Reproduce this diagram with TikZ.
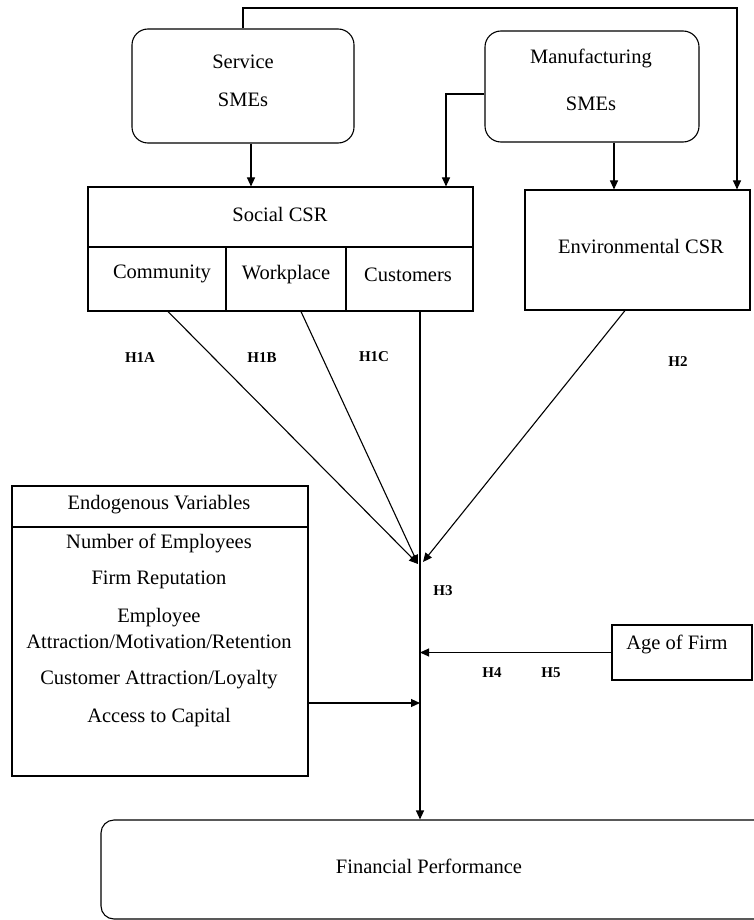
\documentclass[tikz,border=0pt]{standalone}
\usepackage{fontspec}
\setmainfont{Liberation Serif}
\usetikzlibrary{arrows.meta}
\tikzset{
  box/.style={draw, line width=1.1pt, inner sep=0pt, rectangle},
  rbox/.style={box, rounded corners=16pt},
  txt/.style={inner sep=0pt, font=\fontsize{20.5}{22}\selectfont},
  hyp/.style={inner sep=0pt, font=\fontsize{15}{16}\selectfont\bfseries},
  arr/.style={line width=1.1pt, -{Triangle[length=9pt,width=8pt]}}
}
\begin{document}
\begin{tikzpicture}[x=1pt,y=-1pt]
\useasboundingbox (0,0) rectangle (753,920);
% boxes
\node[rbox, minimum width=222pt, minimum height=114pt] (svc) at (243,86) {};
\node[txt] (svct1) at (243,62) {Service};
\node[txt] (svct2) at (243,100) {SMEs};
\node[rbox, minimum width=214pt, minimum height=111pt] (mfg) at (592,86.5) {};
\node[txt] (mfgt1) at (591,58) {Manufacturing};
\node[txt] (mfgt2) at (591,104) {SMEs};
\node[box, minimum width=385pt, minimum height=60pt] (soch) at (280.5,217) {};
\node[txt] (socht) at (280,214) {Social CSR};
\node[box, minimum width=138pt, minimum height=64pt] (comm) at (157,279) {};
\node[txt] (commt) at (162,274) {Community};
\node[box, minimum width=120pt, minimum height=64pt] (work) at (286,279) {};
\node[txt] (workt) at (286,275) {Workplace};
\node[box, minimum width=127pt, minimum height=64pt] (cust) at (409.5,279) {};
\node[txt] (custt) at (408,275) {Customers};
\node[box, minimum width=225pt, minimum height=120pt] (env) at (637.5,250) {};
\node[txt] (envt) at (641,246) {Environmental CSR};
\node[box, minimum width=296pt, minimum height=41pt] (endoh) at (160,506.5) {};
\node[txt] (endoht) at (159,505) {Endogenous Variables};
\node[box, minimum width=296pt, minimum height=249pt] (endo) at (160,651.5) {};
\node[txt] (e1) at (159,543) {Number of Employees};
\node[txt] (e2) at (159,580) {Firm Reputation};
\node[txt] (e3) at (159,618) {Employee};
\node[txt] (e4) at (159,642) {Attraction/Motivation/Retention};
\node[txt] (e5) at (159,680) {Customer Attraction/Loyalty};
\node[txt] (e6) at (159,718) {Access to Capital};
\node[box, minimum width=140pt, minimum height=55pt] (age) at (682,652.5) {};
\node[txt] (aget) at (677,644) {Age of Firm};
\node[box, rounded corners=13pt, minimum width=670pt, minimum height=99pt] (fin) at (436,869.5) {};
\node[txt] (fint) at (429,866) {Financial Performance};
% hypothesis labels
\node[hyp] (h1a) at (140,358) {H1A};
\node[hyp] (h1b) at (262,358) {H1B};
\node[hyp] (h1c) at (374,357) {H1C};
\node[hyp] (h2) at (678,362) {H2};
\node[hyp] (h3) at (443,591) {H3};
\node[hyp] (h4) at (492,673) {H4};
\node[hyp] (h5) at (551,673) {H5};
% connector coordinates
\coordinate (custout) at ([xshift=10.5pt]cust.south);
\coordinate (jl) at (418,564);
\coordinate (jr) at (423,562);
\coordinate (topr) at (737,8);
% top connectors
\draw[arr] (svc.north) |- (topr) -- (topr |- env.north);
\draw[arr] ([xshift=8pt]svc.south) -- ([xshift=8pt]svc.south |- soch.north);
\draw[arr] ([yshift=-7.5pt]mfg.west) -| ([xshift=165.5pt]soch.north);
\draw[arr] ([xshift=22pt]mfg.south) -- ([xshift=22pt]mfg.south |- env.north);
% to junction
\draw[arr] ([xshift=11pt]comm.south) -- (jl);
\draw[arr] ([xshift=15pt]work.south) -- (jl);
\draw[arr] ([xshift=-12.5pt]env.south) -- (jr);
% main vertical
\draw[arr] (custout) -- (custout |- fin.north);
% side inputs
\draw[arr] ([yshift=-51.5pt]endo.east) -- ([yshift=-51.5pt]endo.east -| custout);
\draw[arr] (age.west) -- (age.west -| custout);
\end{tikzpicture}
\end{document}
